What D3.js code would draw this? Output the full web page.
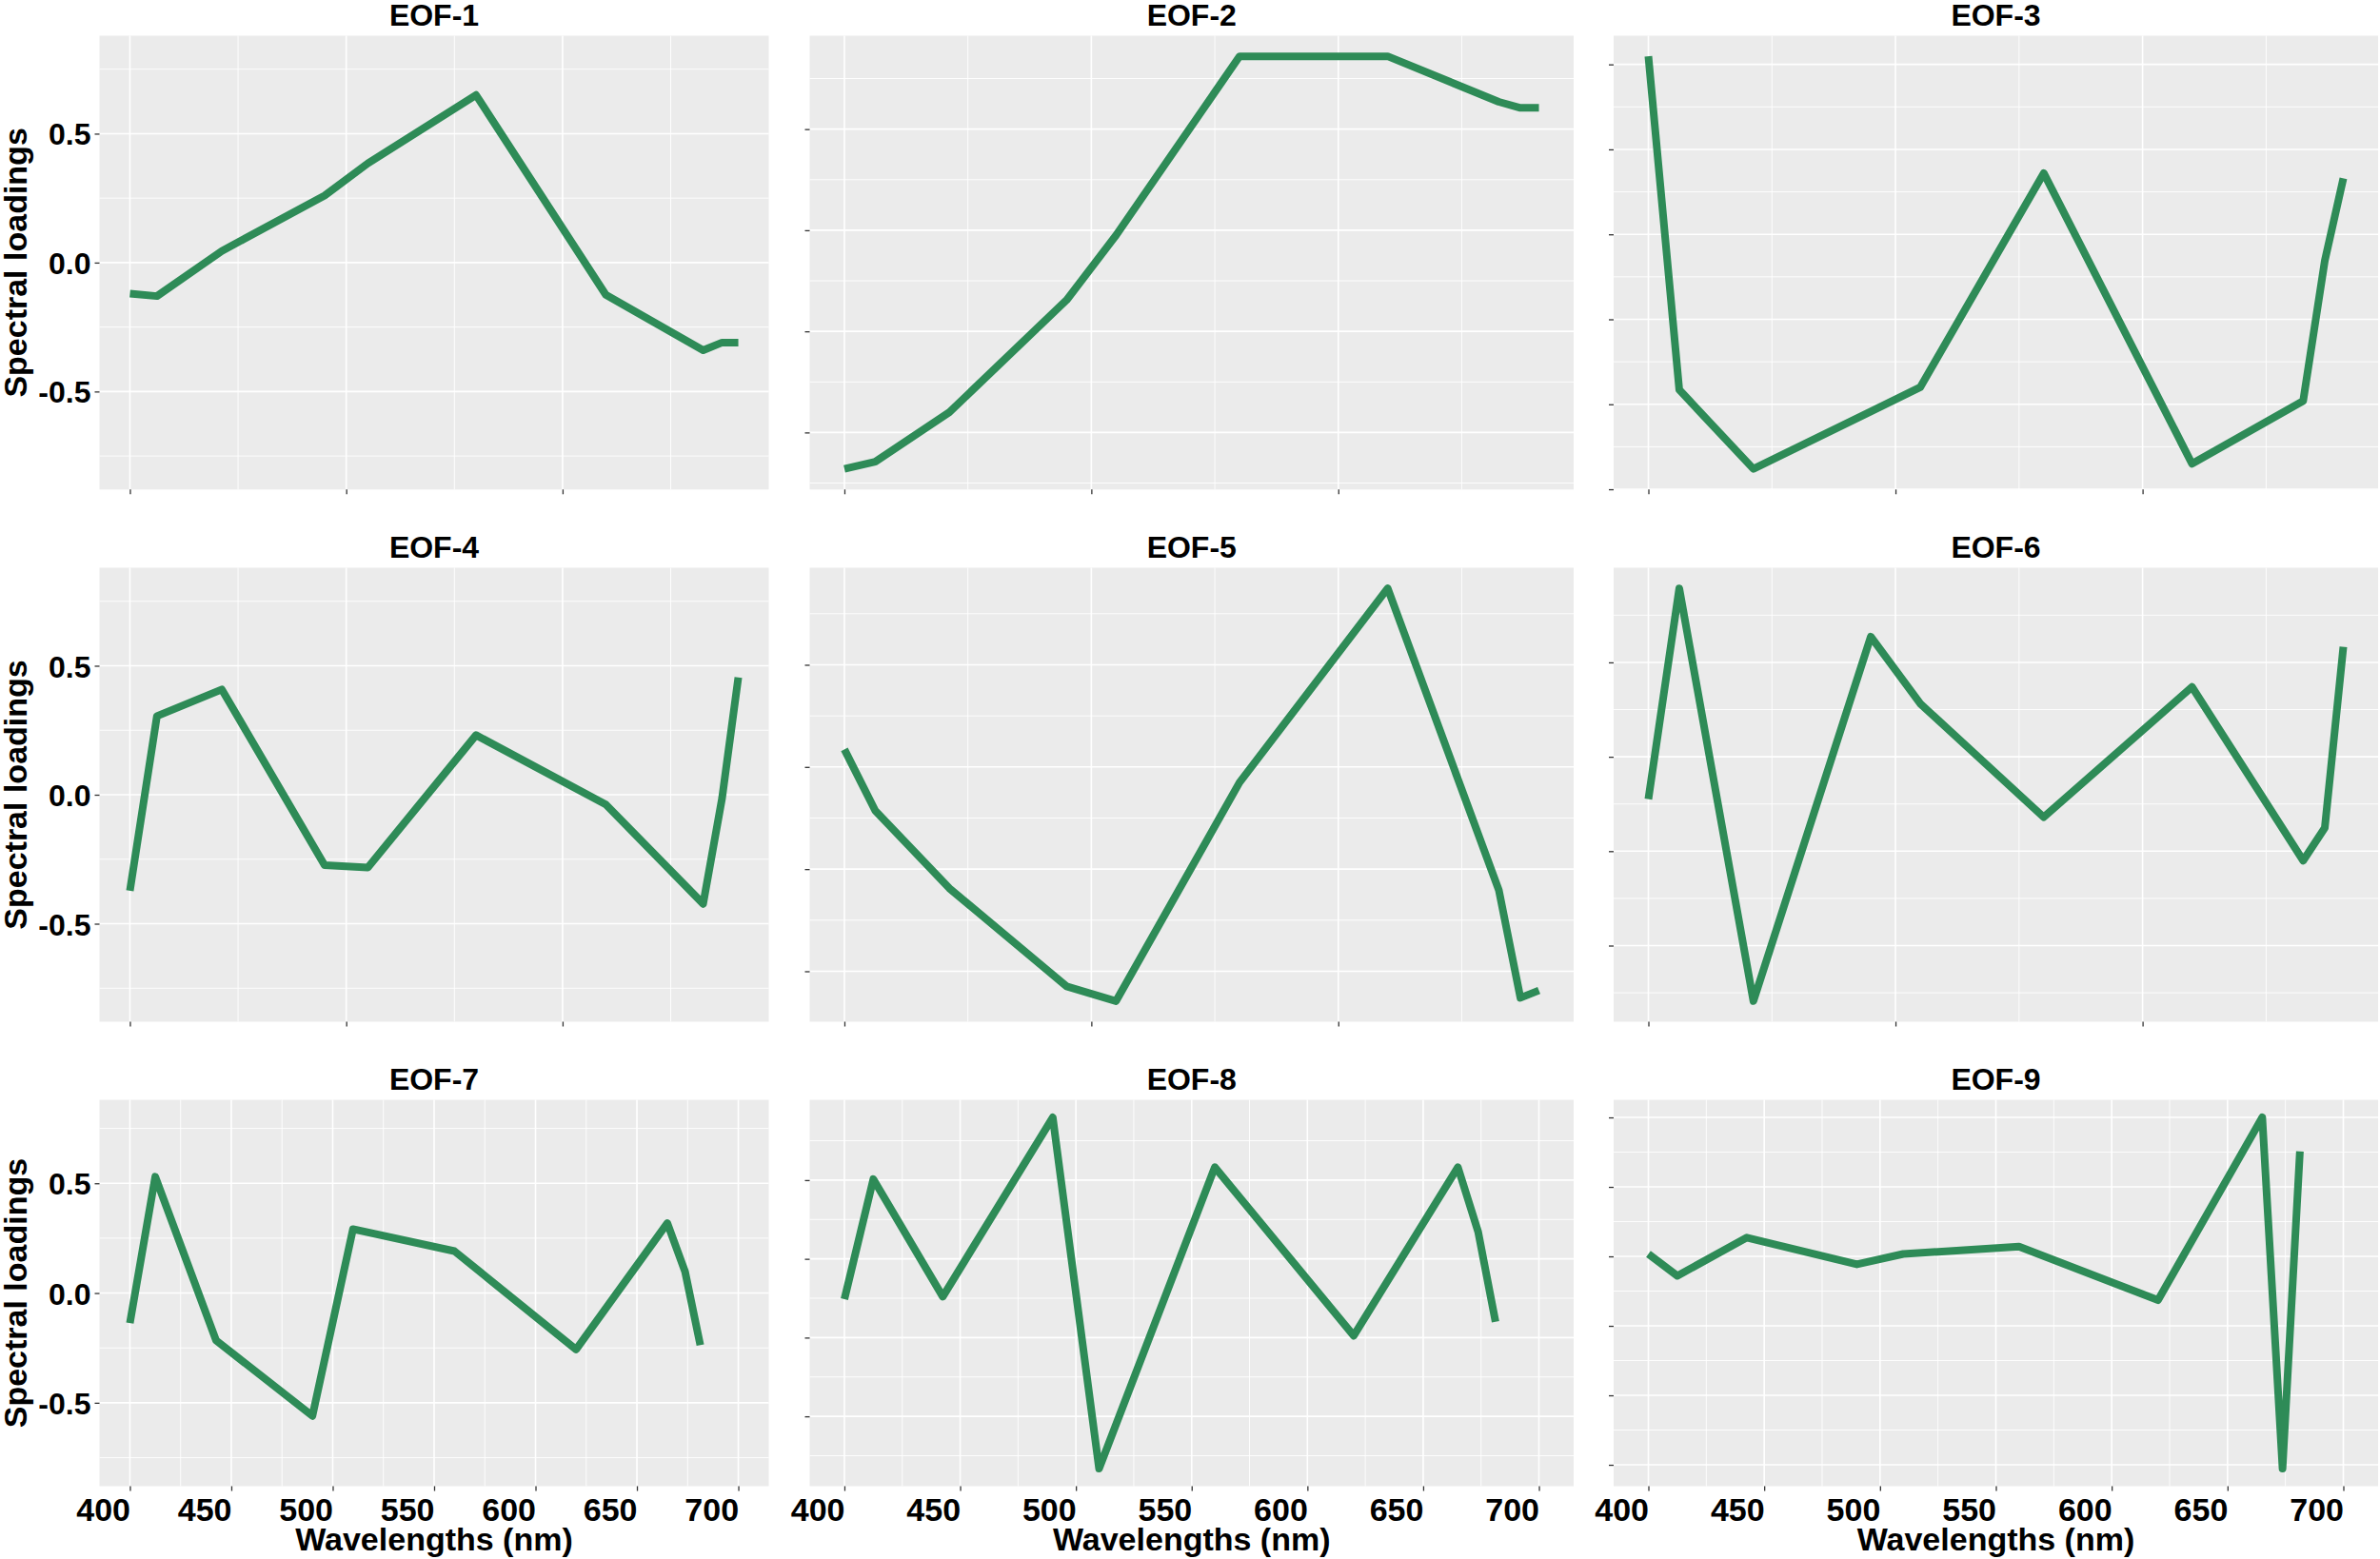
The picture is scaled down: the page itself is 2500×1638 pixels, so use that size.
<!DOCTYPE html>
<html>
<head>
<meta charset="utf-8">
<script src="https://cdn.jsdelivr.net/npm/d3@7"></script>
<style>
  body { margin: 0; background: #ffffff; }
  svg text { font-family: "Liberation Sans", Arial, sans-serif; font-weight: bold; fill: #000; }
</style>
</head>
<body>
<svg id="chart" width="2500" height="1638"></svg>
<script>
// wavelengths of the bands (nm)
const bands = [400, 412.5, 442.5, 490, 510, 560, 620, 665, 673.75, 681.25];

const eofNames = ["EOF-1", "EOF-2", "EOF-3", "EOF-4", "EOF-5", "EOF-6", "EOF-7", "EOF-8", "EOF-9"];

// spectral loadings
const eof1 = [-0.12, -0.13, 0.045, 0.26, 0.385, 0.65, -0.125, -0.34, -0.31, -0.31];
const eof2 = [0.064, 0.071, 0.12, 0.231, 0.295, 0.472, 0.472, 0.427, 0.421, 0.421];
const eof3 = [0.619, -0.166, -0.352, -0.217, -0.16, 0.344, -0.34, -0.192, 0.138, 0.332];
const eof4 = [-0.372, 0.305, 0.408, -0.273, -0.282, 0.231, -0.038, -0.423, -0.013, 0.455];
const eof5 = [0.293, 0.143, -0.047, -0.287, -0.323, 0.212, 0.687, -0.051, -0.315, -0.297];
const eof6 = [-0.112, 0.446, -0.647, 0.318, 0.141, -0.16, 0.185, -0.275, -0.188, 0.291];
const eof7 = [-0.137, 0.53, -0.216, -0.56, 0.291, 0.191, -0.257, 0.318, 0.097, -0.237];
const eof8 = [-0.128, 0.253, -0.12, 0.449, -0.666, 0.291, -0.244, 0.291, 0.086, -0.2];
const eof9 = [-0.193, -0.256, -0.146, -0.223, -0.193, -0.172, -0.326, 0.2, -0.811, 0.102];
const eofValues = [eof1, eof2, eof3, eof4, eof5, eof6, eof7, eof8, eof9];

// y breaks of every panel (only the left column shows its labels)
const yBreaks = [
    [-0.5, 0, 0.5], [0.1, 0.2, 0.3, 0.4], [-0.4, -0.2, 0, 0.2, 0.4, 0.6],
    [-0.5, 0, 0.5], [-0.25, 0, 0.25, 0.5], [-0.5, -0.25, 0, 0.25],
    [-0.5, 0, 0.5], [-0.5, -0.25, 0, 0.25], [-0.8, -0.6, -0.4, -0.2, 0, 0.2]
];
const yLimitsLeft = [-0.8, 0.8];

const xBreaksTop = [400, 500, 600];
const xBreaksBottom = [400, 450, 500, 550, 600, 650, 700];
const xLimitsBottom = [400, 700];

const yTitle = "Spectral loadings";
const xTitle = "Wavelengths (nm)";

// panel boxes
const colX = [[104.5, 807.5], [850.5, 1653], [1695, 2498]];
const rowY = [[37.5, 514.3], [596.5, 1073.5], [1155.6, 1561.5]];

const svg = d3.select("svg#chart");

function expand(ext)
{
    const r = ext[1] - ext[0];
    return [ext[0] - 0.05 * r, ext[1] + 0.05 * r];
}

// ggplot-like minor breaks: halfway between majors, inside the limits
function minorBreaks(major, domain)
{
    const step = major[1] - major[0];
    let out = [];
    for (let v = major[0] - step / 2; v <= major[major.length - 1] + step / 2 + 1e-9; v += step)
        if (v > domain[0] && v < domain[1]) out.push(v);
    return out;
}

eofValues.forEach((values, i) =>
{
    const row = Math.floor(i / 3), col = i % 3;
    const [x0, x1] = colX[col];
    const [y0, y1] = rowY[row];

    const xDomain = row < 2 ? expand(d3.extent(bands)) : expand(xLimitsBottom);
    const yDomain = col === 0 ? expand(yLimitsLeft) : expand(d3.extent(values));
    const x = d3.scaleLinear().domain(xDomain).range([x0, x1]);
    const y = d3.scaleLinear().domain(yDomain).range([y1, y0]);

    const xMajor = row < 2 ? xBreaksTop : xBreaksBottom;
    const yMajor = yBreaks[i];

    const g = svg.append("g").attr("class", "panel");

    g.append("rect")
        .attr("x", x0).attr("y", y0)
        .attr("width", x1 - x0).attr("height", y1 - y0)
        .attr("fill", "#EBEBEB");

    // minor grid
    g.selectAll("line.minorX").data(minorBreaks(xMajor, xDomain)).join("line")
        .attr("x1", d => x(d)).attr("x2", d => x(d))
        .attr("y1", y0).attr("y2", y1)
        .attr("stroke", "#fff").attr("stroke-width", 0.9);
    g.selectAll("line.minorY").data(minorBreaks(yMajor, yDomain)).join("line")
        .attr("y1", d => y(d)).attr("y2", d => y(d))
        .attr("x1", x0).attr("x2", x1)
        .attr("stroke", "#fff").attr("stroke-width", 0.9);

    // major grid
    g.selectAll("line.majorX").data(xMajor.filter(d => d >= xDomain[0] && d <= xDomain[1])).join("line")
        .attr("x1", d => x(d)).attr("x2", d => x(d))
        .attr("y1", y0).attr("y2", y1)
        .attr("stroke", "#fff").attr("stroke-width", 1.6);
    g.selectAll("line.majorY").data(yMajor).join("line")
        .attr("y1", d => y(d)).attr("y2", d => y(d))
        .attr("x1", x0).attr("x2", x1)
        .attr("stroke", "#fff").attr("stroke-width", 1.6);

    // the loadings
    const line = d3.line().x((d, k) => x(bands[k])).y(d => y(d));
    g.append("path")
        .datum(values)
        .attr("d", line)
        .attr("fill", "none")
        .attr("stroke", "#2E8B57")
        .attr("stroke-width", 8)
        .attr("stroke-linejoin", "round")
        .attr("stroke-linecap", "butt");

    // axes: ticks everywhere, labels only on the outer panels
    const yAxis = d3.axisLeft(y).tickValues(yMajor).tickSize(5).tickPadding(4)
        .tickFormat(d => col === 0 ? d.toFixed(1) : "");
    const ya = g.append("g").attr("transform", `translate(${x0},0)`).call(yAxis);
    ya.select(".domain").remove();
    ya.selectAll(".tick line").attr("stroke", "#333").attr("stroke-width", 1.3);
    ya.selectAll(".tick text")
        .attr("font-size", 32).attr("fill", "#000")
        .attr("font-family", null)
        .attr("dy", "0.36em");

    const xAxis = d3.axisBottom(x).tickValues(xMajor).tickSize(5).tickPadding(4)
        .tickFormat(d => row === 2 ? d : "");
    const xa = g.append("g").attr("transform", `translate(0,${y1})`).call(xAxis);
    xa.select(".domain").remove();
    xa.selectAll(".tick line").attr("stroke", "#333").attr("stroke-width", 1.3);
    xa.selectAll(".tick text")
        .attr("font-size", 34).attr("fill", "#000")
        .attr("font-family", null)
        .attr("text-anchor", "end")
        .attr("y", 36).attr("dy", null);

    // panel title
    g.append("text")
        .attr("x", (x0 + x1) / 2).attr("y", y0 - 10.5)
        .attr("text-anchor", "middle")
        .attr("font-size", 32)
        .text(eofNames[i]);

    if (col === 0)
    {
        g.append("text")
            .attr("transform", `translate(27.5,${(y0 + y1) / 2}) rotate(-90)`)
            .attr("text-anchor", "middle")
            .attr("font-size", 34)
            .text(yTitle);
    }
    if (row === 2)
    {
        g.append("text")
            .attr("x", (x0 + x1) / 2).attr("y", 1629)
            .attr("text-anchor", "middle")
            .attr("font-size", 34)
            .text(xTitle);
    }
});
</script>
</body>
</html>
